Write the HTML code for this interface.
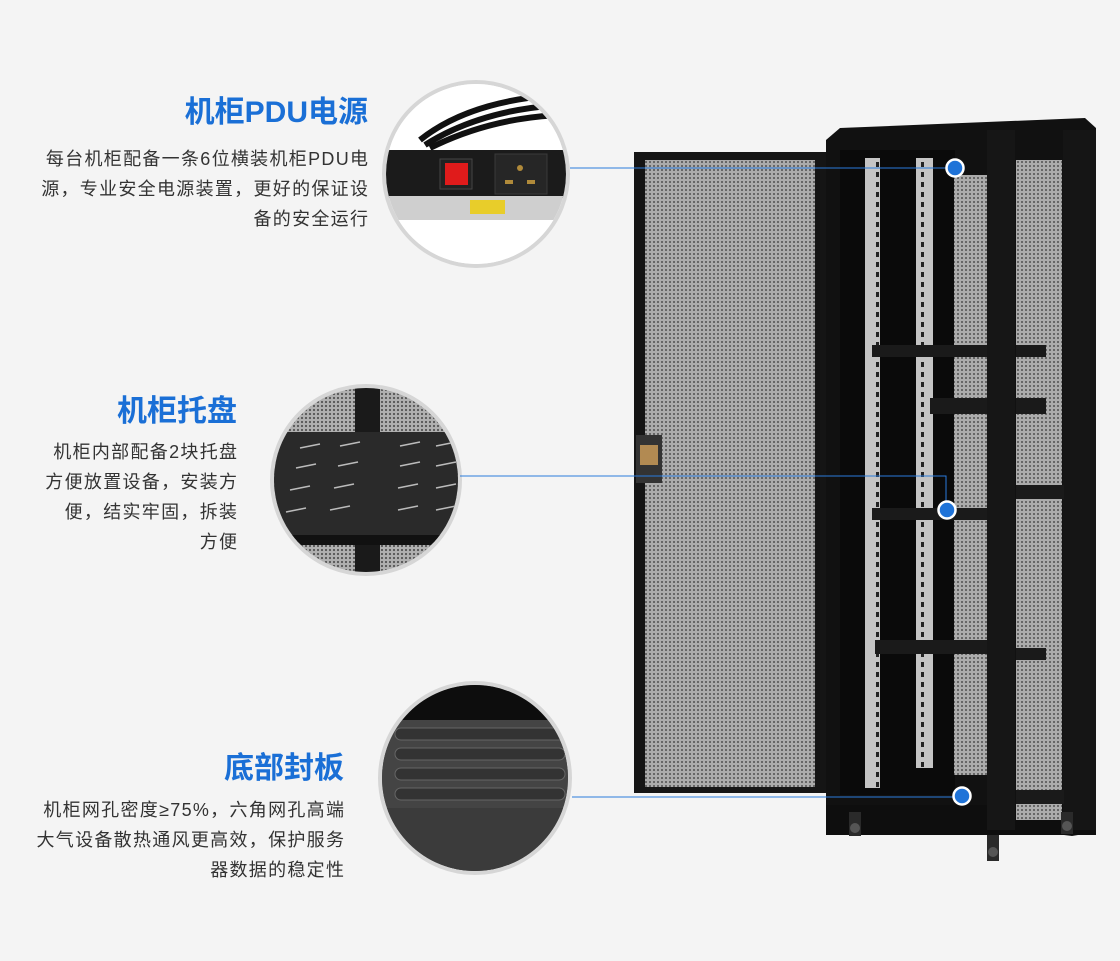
<!DOCTYPE html>
<html><head><meta charset="utf-8"><style>
body{margin:0;width:1120px;height:961px;background:#f4f4f4;overflow:hidden;position:relative;font-family:"Liberation Sans","Noto Sans CJK SC",sans-serif}
.h{position:absolute;color:#1a6fd6;font-weight:bold;font-size:30px;text-align:right;line-height:34px}
.t{position:absolute;color:#333;font-size:18px;text-align:right;line-height:30px;letter-spacing:1.3px;margin-right:-1.3px}
svg{position:absolute;left:0;top:0}
</style></head><body>
<svg width="1120" height="961" viewBox="0 0 1120 961">
<defs>
<pattern id="perf" width="4" height="4" patternUnits="userSpaceOnUse"><rect width="4" height="4" fill="#ababab"/><circle cx="2" cy="2" r="1" fill="#505050"/></pattern>
<pattern id="perf2" width="4" height="4" patternUnits="userSpaceOnUse"><rect width="4" height="4" fill="#b0b0b0"/><circle cx="2" cy="2" r="1.1" fill="#555"/></pattern>
<pattern id="rail" width="15" height="10" patternUnits="userSpaceOnUse"><rect width="15" height="10" fill="#c4c4c4"/><rect x="6" y="2" width="3" height="5" fill="#222"/></pattern>
<clipPath id="c1"><circle cx="476" cy="174" r="90"/></clipPath>
<clipPath id="c2"><circle cx="366" cy="480" r="92"/></clipPath>
<clipPath id="c3"><circle cx="475" cy="778" r="93"/></clipPath>
</defs>
<circle cx="476" cy="174" r="92" fill="#fff" stroke="#d6d6d6" stroke-width="4"/>
<g clip-path="url(#c1)">
<rect x="380" y="80" width="200" height="190" fill="#fff"/>
<path d="M420 140 Q470 100 560 95" stroke="#111" stroke-width="6" fill="none"/>
<path d="M425 145 Q480 110 560 105" stroke="#111" stroke-width="6" fill="none"/>
<path d="M430 148 Q490 118 560 115" stroke="#111" stroke-width="6" fill="none"/>
<rect x="385" y="150" width="190" height="48" fill="#1b1b1b"/>
<rect x="385" y="196" width="190" height="24" fill="#cfcfcf"/>
<rect x="470" y="200" width="35" height="14" fill="#e8cd2a"/>
<rect x="440" y="159" width="32" height="30" fill="#222" stroke="#444"/>
<rect x="445" y="163" width="23" height="22" fill="#e01b1b"/>
<rect x="495" y="154" width="52" height="40" fill="#262626" stroke="#3a3a3a"/>
<circle cx="520" cy="168" r="3" fill="#b08a3a"/><rect x="505" y="180" width="8" height="4" fill="#b08a3a"/><rect x="527" y="180" width="8" height="4" fill="#b08a3a"/>
</g>
<circle cx="366" cy="480" r="94" fill="#888" stroke="#d6d6d6" stroke-width="4"/>
<g clip-path="url(#c2)">
<rect x="270" y="385" width="200" height="195" fill="url(#perf2)"/>
<rect x="355" y="385" width="25" height="195" fill="#1a1a1a"/>
<rect x="270" y="432" width="200" height="110" fill="#2a2a2a"/>
<rect x="270" y="535" width="200" height="10" fill="#111"/>
<g stroke="#bbb" stroke-width="1.5">
<line x1="300" y1="448" x2="320" y2="444"/><line x1="340" y1="446" x2="360" y2="442"/><line x1="400" y1="446" x2="420" y2="442"/><line x1="436" y1="446" x2="456" y2="442"/>
<line x1="296" y1="468" x2="316" y2="464"/><line x1="338" y1="466" x2="358" y2="462"/><line x1="400" y1="466" x2="420" y2="462"/><line x1="436" y1="466" x2="456" y2="462"/>
<line x1="290" y1="490" x2="310" y2="486"/><line x1="334" y1="488" x2="354" y2="484"/><line x1="398" y1="488" x2="418" y2="484"/><line x1="436" y1="488" x2="456" y2="484"/>
<line x1="286" y1="512" x2="306" y2="508"/><line x1="330" y1="510" x2="350" y2="506"/><line x1="398" y1="510" x2="418" y2="506"/><line x1="436" y1="510" x2="456" y2="506"/>
</g></g>
<circle cx="475" cy="778" r="95" fill="#3a3a3a" stroke="#d6d6d6" stroke-width="4"/>
<g clip-path="url(#c3)">
<rect x="378" y="680" width="200" height="40" fill="#0d0d0d"/>
<rect x="378" y="720" width="200" height="160" fill="#444"/>
<g fill="#333" stroke="#666" stroke-width="1">
<rect x="395" y="728" width="170" height="12" rx="6"/><rect x="395" y="748" width="170" height="12" rx="6"/><rect x="395" y="768" width="170" height="12" rx="6"/><rect x="395" y="788" width="170" height="12" rx="6"/>
</g>
<rect x="378" y="808" width="200" height="70" fill="#3b3b3b"/>
</g>
<rect x="634" y="152" width="195" height="641" fill="#151515"/>
<rect x="645" y="160" width="170" height="627" fill="url(#perf)"/>
<rect x="636" y="435" width="26" height="48" fill="#333"/><rect x="640" y="445" width="18" height="20" fill="#b28a52"/>
<polygon points="826,140 840,128 1085,118 1096,128 1096,832 1072,836 826,805" fill="#111"/>
<rect x="826" y="805" width="270" height="30" fill="#0e0e0e"/>
<rect x="840" y="150" width="115" height="645" fill="#0a0a0a"/>
<rect x="865" y="158" width="15" height="630" fill="url(#rail)"/>
<rect x="916" y="158" width="17" height="610" fill="url(#rail)"/>
<rect x="954" y="175" width="33" height="600" fill="url(#perf)"/>
<rect x="987" y="130" width="28" height="700" fill="#161616"/>
<rect x="1016" y="160" width="46" height="660" fill="url(#perf)"/>
<rect x="1063" y="130" width="33" height="700" fill="#151515"/>
<g fill="#1a1a1a">
<rect x="872" y="345" width="115" height="12"/><rect x="1016" y="345" width="30" height="12"/>
<rect x="930" y="398" width="57" height="16"/><rect x="1016" y="398" width="30" height="16"/>
<rect x="872" y="508" width="115" height="12"/><rect x="1016" y="485" width="48" height="14"/>
<rect x="875" y="640" width="112" height="14"/><rect x="1016" y="648" width="30" height="12"/>
<rect x="1016" y="790" width="48" height="14"/>
</g>
<g fill="#2a2a2a"><rect x="849" y="812" width="12" height="24"/><rect x="1061" y="812" width="12" height="22"/><rect x="987" y="835" width="12" height="26"/></g>
<g fill="#555"><circle cx="855" cy="828" r="5"/><circle cx="1067" cy="826" r="5"/><circle cx="993" cy="852" r="5"/></g>
<g stroke="#2a7bdc" stroke-width="1" fill="none">
<line x1="570" y1="168" x2="955" y2="168"/>
<polyline points="460,476 946,476 946,510"/>
<line x1="572" y1="797" x2="962" y2="797"/>
</g>
<g fill="#1f73d8" stroke="#fff" stroke-width="2.5">
<circle cx="955" cy="168" r="8.5"/><circle cx="947" cy="510" r="8.5"/><circle cx="962" cy="796" r="8.5"/>
</g>
</svg>
<div class="h" style="right:752px;top:96px">机柜PDU电源</div>
<div class="t" style="right:752px;top:144px">每台机柜配备一条6位横装机柜PDU电<br>源，专业安全电源装置，更好的保证设<br>备的安全运行</div>
<div class="h" style="right:883px;top:395px">机柜托盘</div>
<div class="t" style="right:883px;top:437px">机柜内部配备2块托盘<br>方便放置设备，安装方<br>便，结实牢固，拆装<br>方便</div>
<div class="h" style="right:776px;top:752px">底部封板</div>
<div class="t" style="right:776px;top:795px">机柜网孔密度≥75%，六角网孔高端<br>大气设备散热通风更高效，保护服务<br>器数据的稳定性</div>
</body></html>
